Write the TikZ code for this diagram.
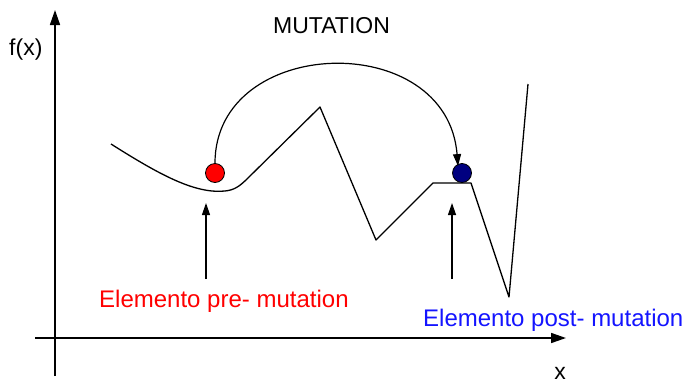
\documentclass[tikz,border=0pt]{standalone}
\usepackage{fontspec}
\setmainfont{Liberation Sans}
\usetikzlibrary{arrows.meta}
\definecolor{navyb}{RGB}{0,0,128}
\definecolor{lblblue}{RGB}{20,20,255}
\begin{document}
\begin{tikzpicture}[x=1pt,y=-1pt,
  axis/.style={line width=1.6pt,-{Triangle[length=15pt,width=10pt]}},
  curveline/.style={line width=1.3pt,line join=round},
  uparrow/.style={line width=1.2pt,-{Triangle[length=12pt,width=8pt]}},
  mutarrow/.style={line width=1.2pt,-{Triangle[length=12pt,width=8pt]}},
  dot/.style={circle,draw=black,line width=0.8pt,minimum size=19pt,inner sep=0pt},
  lbl/.style={font=\fontsize{23}{27}\selectfont,inner sep=0pt,anchor=base west},
  elbl/.style={font=\fontsize{24}{28}\selectfont,inner sep=0pt,anchor=base west}]
\useasboundingbox (0,0) rectangle (684,383);
% axes
\coordinate (ybot) at (55,376);
\coordinate (ytop) at (55,10);
\coordinate (xleft) at (35,338);
\coordinate (xright) at (566,338);
\draw[axis] (ybot) -- (ytop);
\draw[axis] (xleft) -- (xright);
\node[lbl] (fx) at (9,55) {f(x)};
\node[lbl,anchor=center] (xl) at (560,373) {x};
\node[lbl] (title) at (273,33) {MUTATION};
% function curve
\draw[curveline] (111,144) .. controls (160,175) and (195,194) .. (225,191)
  .. controls (234,190) and (239,187) .. (248,178)
  -- (320,107) -- (376,240) -- (433,183) -- (471,183) -- (509,297) -- (528,84);
% elements
\node[dot,fill=red] (pre) at (215,173) {};
\node[dot,fill=navyb] (post) at (462,173) {};
\draw[mutarrow] (pre.north) .. controls (215,35) and (447,28) .. ([xshift=-4pt,yshift=-3pt]post.north);
% labels
\node[elbl,text=red] (prel) at (99,307) {Elemento pre- mutation};
\node[elbl,text=lblblue] (postl) at (423,326) {Elemento post- mutation};
\coordinate (prea) at (206,279);
\coordinate (pret) at (206,203);
\coordinate (posta) at (452,279);
\coordinate (postt) at (452,203);
\draw[uparrow] (prea) -- (pret);
\draw[uparrow] (posta) -- (postt);
\end{tikzpicture}
\end{document}
